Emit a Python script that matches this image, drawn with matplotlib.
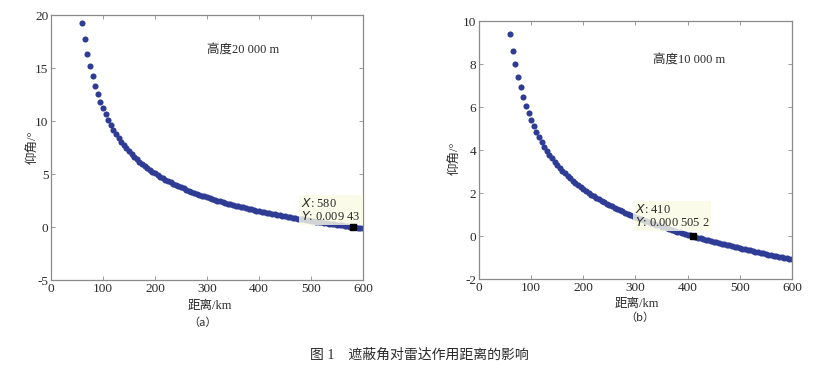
import matplotlib
matplotlib.use('Agg')
import matplotlib.pyplot as plt

plt.rcParams['font.family'] = ['Liberation Serif', 'Noto Sans CJK SC']
plt.rcParams['axes.unicode_minus'] = False

# distance (km), every 5 km from 60 to 600
dist = list(range(60, 601, 5))

# elevation angle (deg), height 20 000 m
angle20 = [19.28, 17.71, 16.37, 15.22, 14.22, 13.33, 12.54, 11.84, 11.20, 10.63,
           10.11, 9.63, 9.19, 8.79, 8.41, 8.07, 7.74, 7.44, 7.16, 6.89,
           6.64, 6.41, 6.18, 5.97, 5.77, 5.58, 5.40, 5.23, 5.06, 4.91,
           4.76, 4.61, 4.47, 4.34, 4.21, 4.09, 3.97, 3.85, 3.74, 3.64,
           3.53, 3.43, 3.34, 3.24, 3.15, 3.06, 2.97, 2.89, 2.81, 2.73,
           2.65, 2.57, 2.50, 2.43, 2.36, 2.29, 2.22, 2.16, 2.09, 2.03,
           1.97, 1.91, 1.85, 1.79, 1.73, 1.67, 1.62, 1.56, 1.51, 1.46,
           1.41, 1.36, 1.31, 1.26, 1.21, 1.16, 1.11, 1.07, 1.02, 0.98,
           0.93, 0.89, 0.85, 0.80, 0.76, 0.72, 0.68, 0.64, 0.60, 0.56,
           0.52, 0.48, 0.44, 0.40, 0.37, 0.33, 0.29, 0.26, 0.22, 0.18,
           0.15, 0.11, 0.08, 0.04, 0.0094, -0.02, -0.06, -0.09, -0.12]

# elevation angle (deg), height 10 000 m
angle10 = [9.39, 8.63, 7.98, 7.41, 6.91, 6.47, 6.07, 5.72, 5.40, 5.11,
           4.84, 4.60, 4.37, 4.16, 3.97, 3.79, 3.62, 3.46, 3.31, 3.17,
           3.04, 2.91, 2.79, 2.68, 2.57, 2.47, 2.37, 2.28, 2.19, 2.10,
           2.01, 1.93, 1.86, 1.78, 1.71, 1.64, 1.57, 1.50, 1.44, 1.38,
           1.32, 1.26, 1.20, 1.15, 1.09, 1.04, 0.99, 0.94, 0.89, 0.84,
           0.79, 0.75, 0.70, 0.66, 0.61, 0.57, 0.53, 0.49, 0.44, 0.40,
           0.37, 0.33, 0.29, 0.25, 0.21, 0.18, 0.14, 0.10, 0.07, 0.03,
           0.0005, -0.03, -0.07, -0.10, -0.13, -0.17, -0.20, -0.23, -0.26, -0.29,
           -0.32, -0.35, -0.38, -0.41, -0.44, -0.47, -0.50, -0.53, -0.56, -0.59,
           -0.62, -0.64, -0.67, -0.70, -0.73, -0.75, -0.78, -0.81, -0.83, -0.86,
           -0.89, -0.91, -0.94, -0.96, -0.99, -1.02, -1.04, -1.07, -1.09]

tip20 = [580, 0.00943]
tip10 = [410, 0.0005052]

dotColor = '#2f3c96'
axColor = '#8a8a8a'
txtColor = '#2a2a2a'

fig = plt.figure(figsize=(8.34, 3.68), dpi=100)
ax1 = fig.add_axes([0.0612, 0.239, 0.374, 0.720])
ax2 = fig.add_axes([0.5743, 0.2418, 0.3753, 0.701])

def styleAxes(ax):
	for sp in ax.spines.values():
		sp.set_color(axColor)
		sp.set_linewidth(0.9)
	ax.tick_params(direction='in', length=3, width=0.6, color=axColor,
	               top=True, right=True, labelsize=9.5, labelcolor=txtColor, pad=2)

ax1.plot(dist, angle20, 'o', ms=4.4, mew=0, color=dotColor, zorder=2)
ax1.plot(tip20[0], tip20[1], 's', ms=4.5, color='black', zorder=5)
ax1.set_xlim(0, 600)
ax1.set_ylim(-5, 20)
ax1.set_xticks(range(0, 601, 100))
ax1.set_yticks(range(-5, 21, 5))
styleAxes(ax1)
ax1.text(370, 16.7, '高度20 000 m', ha='center', va='center', fontsize=9, color=txtColor)
ax1.annotate('$\\it{X}$: 580\n$\\it{Y}$: 0.009 43', xy=(tip20[0], tip20[1]),
             xytext=(-37, 3), textcoords='offset points', ha='left', va='bottom',
             fontsize=9, color=txtColor, linespacing=1.0, zorder=4,
             bbox=dict(boxstyle='square,pad=0.15', fc='#fbfbe4', ec='none', alpha=0.8))
ax1.set_xlabel('距离/km', fontsize=9, color=txtColor)
ax1.xaxis.set_label_coords(0.51, -0.075)
ax1.set_ylabel('仰角/°', fontsize=9, color=txtColor)
ax1.yaxis.set_label_coords(-0.04, 0.5)
ax1.text(0.487, -0.162, '（a）', transform=ax1.transAxes, ha='center', va='center',
         fontsize=8, color=txtColor, family=['Noto Sans CJK SC'])

ax2.plot(dist, angle10, 'o', ms=4.4, mew=0, color=dotColor, zorder=2)
ax2.plot(tip10[0], tip10[1], 's', ms=4.5, color='black', zorder=5)
ax2.set_xlim(0, 600)
ax2.set_ylim(-2, 10)
ax2.set_xticks(range(0, 601, 100))
ax2.set_yticks(range(-2, 11, 2))
styleAxes(ax2)
ax2.text(402, 8.22, '高度10 000 m', ha='center', va='center', fontsize=9, color=txtColor)
ax2.annotate('$\\it{X}$: 410\n$\\it{Y}$: 0.000 505 2', xy=(tip10[0], tip10[1]),
             xytext=(-42, 5), textcoords='offset points', ha='left', va='bottom',
             fontsize=9, color=txtColor, linespacing=1.0, zorder=4,
             bbox=dict(boxstyle='square,pad=0.15', fc='#fbfbe4', ec='none', alpha=0.8))
ax2.set_xlabel('距离/km', fontsize=9, color=txtColor)
ax2.xaxis.set_label_coords(0.505, -0.074)
ax2.set_ylabel('仰角/°', fontsize=9, color=txtColor)
ax2.yaxis.set_label_coords(-0.058, 0.47)
ax2.text(0.514, -0.151, '（b）', transform=ax2.transAxes, ha='center', va='center',
         fontsize=8, color=txtColor, family=['Noto Sans CJK SC'])

fig.text(0.503, 0.035, '图 1    遮蔽角对雷达作用距离的影响', ha='center', va='center',
         fontsize=10, color=txtColor)

fig.savefig('out.png', dpi=100)
